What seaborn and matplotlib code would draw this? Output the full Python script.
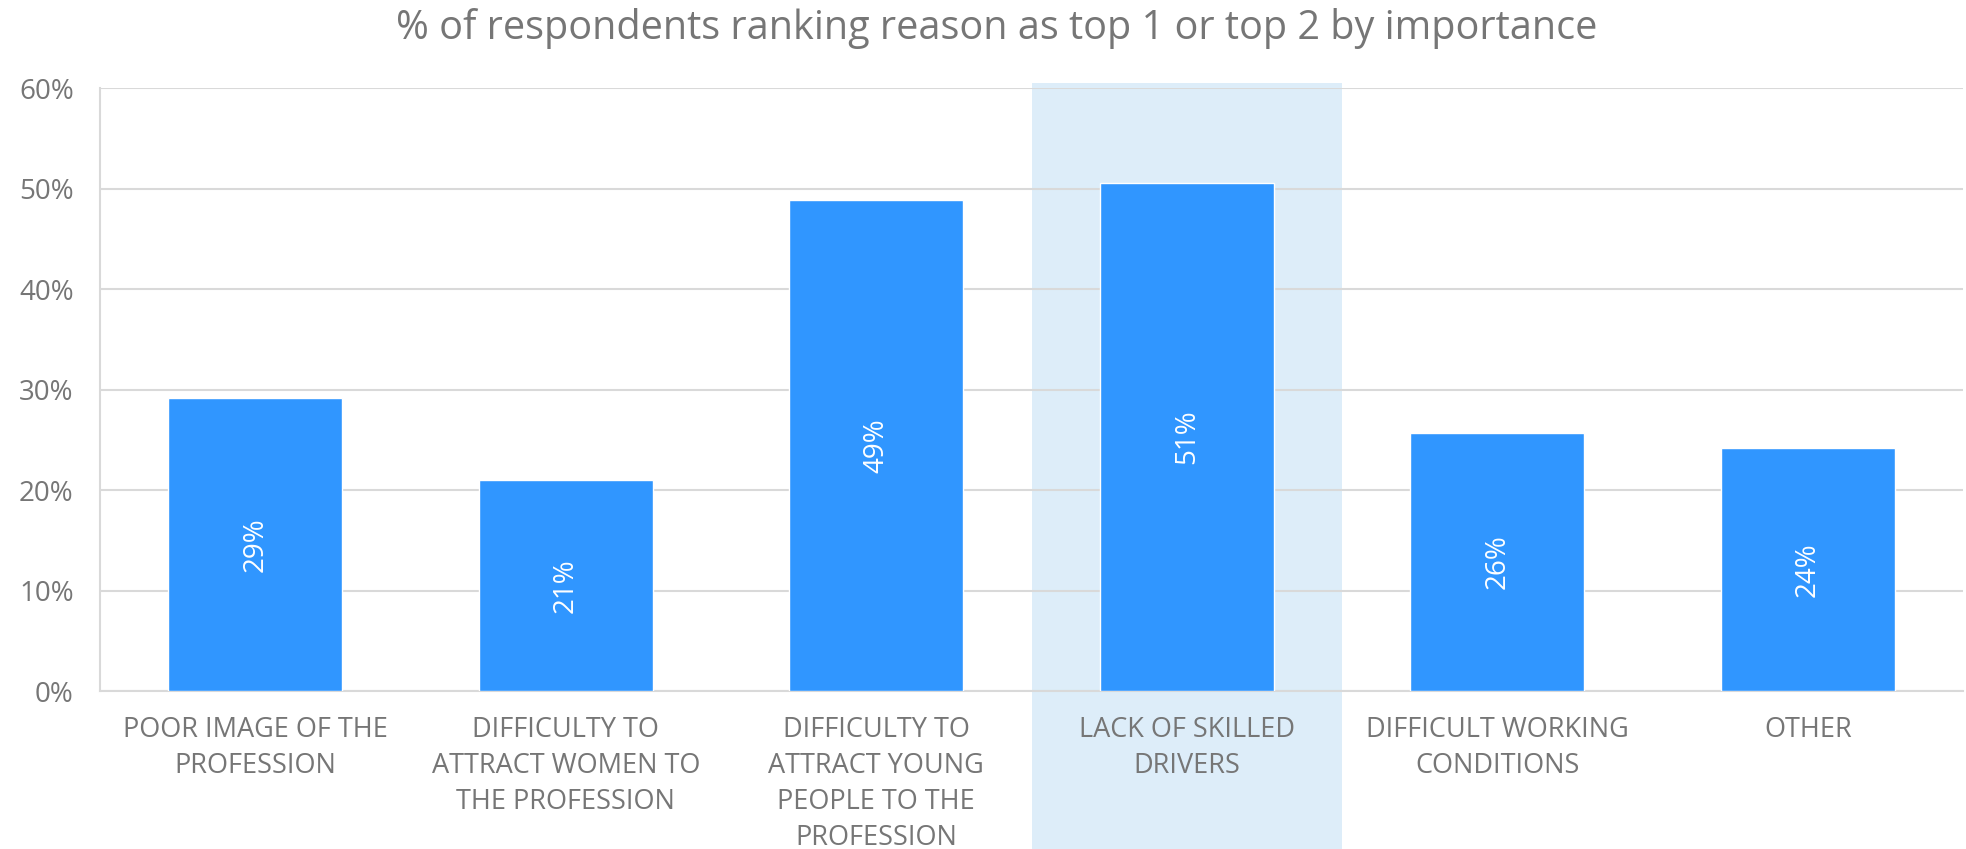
import pandas as pd
import matplotlib
matplotlib.use('Agg')
import matplotlib.pyplot as plt
import matplotlib.transforms as mtransforms
from matplotlib.patches import Rectangle
from matplotlib.ticker import PercentFormatter
import seaborn as sns

# Data
reasons = ['POOR IMAGE OF THE\nPROFESSION',
           'DIFFICULTY TO\nATTRACT WOMEN TO\nTHE PROFESSION',
           'DIFFICULTY TO\nATTRACT YOUNG\nPEOPLE TO THE\nPROFESSION',
           'LACK OF SKILLED\nDRIVERS',
           'DIFFICULT WORKING\nCONDITIONS',
           'OTHER']
share = [0.292, 0.210, 0.489, 0.506, 0.257, 0.242]
highlight = 'LACK OF SKILLED\nDRIVERS'
title = '% of respondents ranking reason as top 1 or top 2 by importance'

df = pd.DataFrame({'reason': reasons, 'share': share})

sns.set_style('white')
plt.rcParams['font.family'] = ['Open Sans', 'DejaVu Sans']

gray = '#767676'
blue = '#3096FF'

fig = plt.figure(figsize=(19.66, 8.49), dpi=100)
ax = fig.add_axes([0.0509, 0.186, 0.9476, 0.7103])

sns.barplot(data=df, x='reason', y='share', color=blue, saturation=1,
            width=0.56, ax=ax, zorder=3)

# highlighted category band
idx = reasons.index(highlight)
trans = mtransforms.blended_transform_factory(ax.transData, ax.transAxes)
band = Rectangle((idx - 0.5, -0.4), 1.0, 1.4 + 0.008, transform=trans,
                 facecolor='#DDEDF9', edgecolor='none', zorder=0.1, clip_on=False)
ax.add_patch(band)

# value labels inside bars
for i, v in enumerate(share):
    ax.text(i, v / 2, f'{v:.0%}', rotation=90, ha='center', va='center',
            color='white', fontsize=20, zorder=4)

ax.set_xlim(-0.5, len(reasons) - 0.5)
ax.set_ylim(0, 0.6)
ax.set_yticks([0, 0.1, 0.2, 0.3, 0.4, 0.5, 0.6])
ax.yaxis.set_major_formatter(PercentFormatter(1.0, decimals=0))
ax.set_axisbelow(True)
ax.grid(axis='y', color='#D9D9D9', linewidth=1.5, zorder=0.5)
ax.set_xlabel('')
ax.set_ylabel('')

for s in ['top', 'right']:
    ax.spines[s].set_visible(False)
for s in ['left', 'bottom']:
    ax.spines[s].set_color('#D9D9D9')
    ax.spines[s].set_linewidth(1.5)

ax.tick_params(axis='y', colors='#D9D9D9', length=9, width=1.5, pad=10,
               labelcolor=gray, labelsize=20)
ax.tick_params(axis='x', length=0, pad=18, labelcolor=gray, labelsize=19.5)
for lab in ax.get_xticklabels():
    lab.set_linespacing(1.38)

fig.text(0.507, 0.967, title, ha='center', va='center', color=gray, fontsize=28.5)

fig.savefig('out.png', dpi=100)
